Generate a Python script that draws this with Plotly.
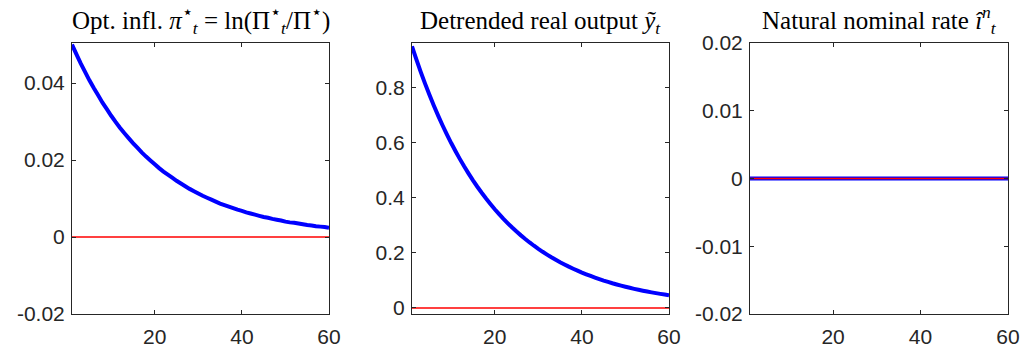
import plotly.graph_objects as go

t = list(range(1, 61))

infl_opt = [0.0500, 0.0475, 0.0451, 0.0429, 0.0407, 0.0387, 0.0368, 0.0349, 0.0332, 0.0315,
            0.0299, 0.0284, 0.0270, 0.0257, 0.0244, 0.0232, 0.0220, 0.0209, 0.0199, 0.0189,
            0.0179, 0.0170, 0.0162, 0.0154, 0.0146, 0.0139, 0.0132, 0.0125, 0.0119, 0.0113,
            0.0107, 0.0102, 0.0097, 0.0092, 0.0087, 0.0083, 0.0079, 0.0075, 0.0071, 0.0068,
            0.0064, 0.0061, 0.0058, 0.0055, 0.0052, 0.0050, 0.0047, 0.0045, 0.0043, 0.0040,
            0.0038, 0.0037, 0.0035, 0.0033, 0.0031, 0.0030, 0.0028, 0.0027, 0.0026, 0.0024]

output_gap = [0.9500, 0.9025, 0.8574, 0.8145, 0.7738, 0.7351, 0.6983, 0.6634, 0.6302, 0.5987,
              0.5688, 0.5404, 0.5133, 0.4877, 0.4633, 0.4401, 0.4181, 0.3972, 0.3774, 0.3585,
              0.3406, 0.3235, 0.3074, 0.2920, 0.2774, 0.2635, 0.2503, 0.2378, 0.2259, 0.2146,
              0.2039, 0.1937, 0.1840, 0.1748, 0.1661, 0.1578, 0.1499, 0.1424, 0.1353, 0.1285,
              0.1221, 0.1160, 0.1102, 0.1047, 0.0994, 0.0945, 0.0897, 0.0853, 0.0810, 0.0769,
              0.0731, 0.0694, 0.0660, 0.0627, 0.0595, 0.0566, 0.0537, 0.0510, 0.0485, 0.0461]

nat_rate = [0.0] * 60
zero_line = [0.0] * 60

titles = [
    "Opt. infl. <i>π</i><sup>⋆</sup><sub><i>t</i></sub> = ln(Π<sup>⋆</sup><sub><i>t</i></sub>/Π<sup>⋆</sup>)",
    "Detrended real output <i>ỹ</i><sub><i>t</i></sub>",
    "Natural nominal rate <i>î</i><sup><i>n</i></sup><sub><i>t</i></sub>",
]

y_ranges = [[-0.02, 0.0504], [-0.022, 0.962], [-0.02, 0.02]]
y_ticks = [
    ([-0.02, 0, 0.02, 0.04], ["-0.02", "0", "0.02", "0.04"]),
    ([0, 0.2, 0.4, 0.6, 0.8], ["0", "0.2", "0.4", "0.6", "0.8"]),
    ([-0.02, -0.01, 0, 0.01, 0.02], ["-0.02", "-0.01", "0", "0.01", "0.02"]),
]
x_ticks = [20, 40, 60]
x_range = [1, 60]

series = [infl_opt, output_gap, nat_rate]

fig = go.Figure()
W, H = 1023, 347
ml, mr, mt, mb = 72, 15, 43, 33
pw = W - ml - mr
px_dom = [(72, 329), (412, 669), (750, 1008)]
domains = [[(a - ml) / pw, (b - ml) / pw] for a, b in px_dom]

axis_color = "#262626"
tick_font = dict(family="Liberation Sans, Arial, sans-serif", size=21, color=axis_color)

for i in range(3):
    xa = "x" if i == 0 else f"x{i+1}"
    ya = "y" if i == 0 else f"y{i+1}"
    fig.add_trace(go.Scatter(x=t, y=series[i], mode="lines",
                             line=dict(color="#0000FF", width=4, simplify=False),
                             xaxis=xa, yaxis=ya, showlegend=False, hoverinfo="skip"))
    fig.add_trace(go.Scatter(x=t, y=zero_line, mode="lines",
                             line=dict(color="#FF0000", width=1.5, simplify=False),
                             xaxis=xa, yaxis=ya, showlegend=False, hoverinfo="skip"))
    xkey = "xaxis" if i == 0 else f"xaxis{i+1}"
    ykey = "yaxis" if i == 0 else f"yaxis{i+1}"
    fig.layout[xkey] = dict(domain=domains[i], anchor=ya, range=x_range,
                            tickvals=x_ticks, ticktext=[str(v) for v in x_ticks],
                            ticks="inside", ticklen=4, tickcolor=axis_color, tickwidth=1,
                            showline=True, linecolor=axis_color, linewidth=1, mirror="ticks",
                            showgrid=False, zeroline=False, tickfont=tick_font,
                            automargin=False, ticklabelstandoff=4)
    fig.layout[ykey] = dict(domain=[0, 1], anchor=xa, range=y_ranges[i],
                            tickvals=y_ticks[i][0], ticktext=y_ticks[i][1],
                            ticks="inside", ticklen=4, tickcolor=axis_color, tickwidth=1,
                            showline=True, linecolor=axis_color, linewidth=1, mirror="ticks",
                            showgrid=False, zeroline=False, tickfont=tick_font,
                            automargin=False, ticklabelstandoff=2)
    fig.add_annotation(text=titles[i], xref="paper", yref="paper",
                       x=(domains[i][0] + domains[i][1]) / 2, y=1,
                       xanchor="center", yanchor="bottom", yshift=3, showarrow=False,
                       font=dict(family="Liberation Serif, Times New Roman, serif", size=25, color="#000000"))

fig.update_layout(width=W, height=H, margin=dict(l=ml, r=mr, t=mt, b=mb, autoexpand=False),
                  paper_bgcolor="white", plot_bgcolor="white")

fig.write_html("out.html")
